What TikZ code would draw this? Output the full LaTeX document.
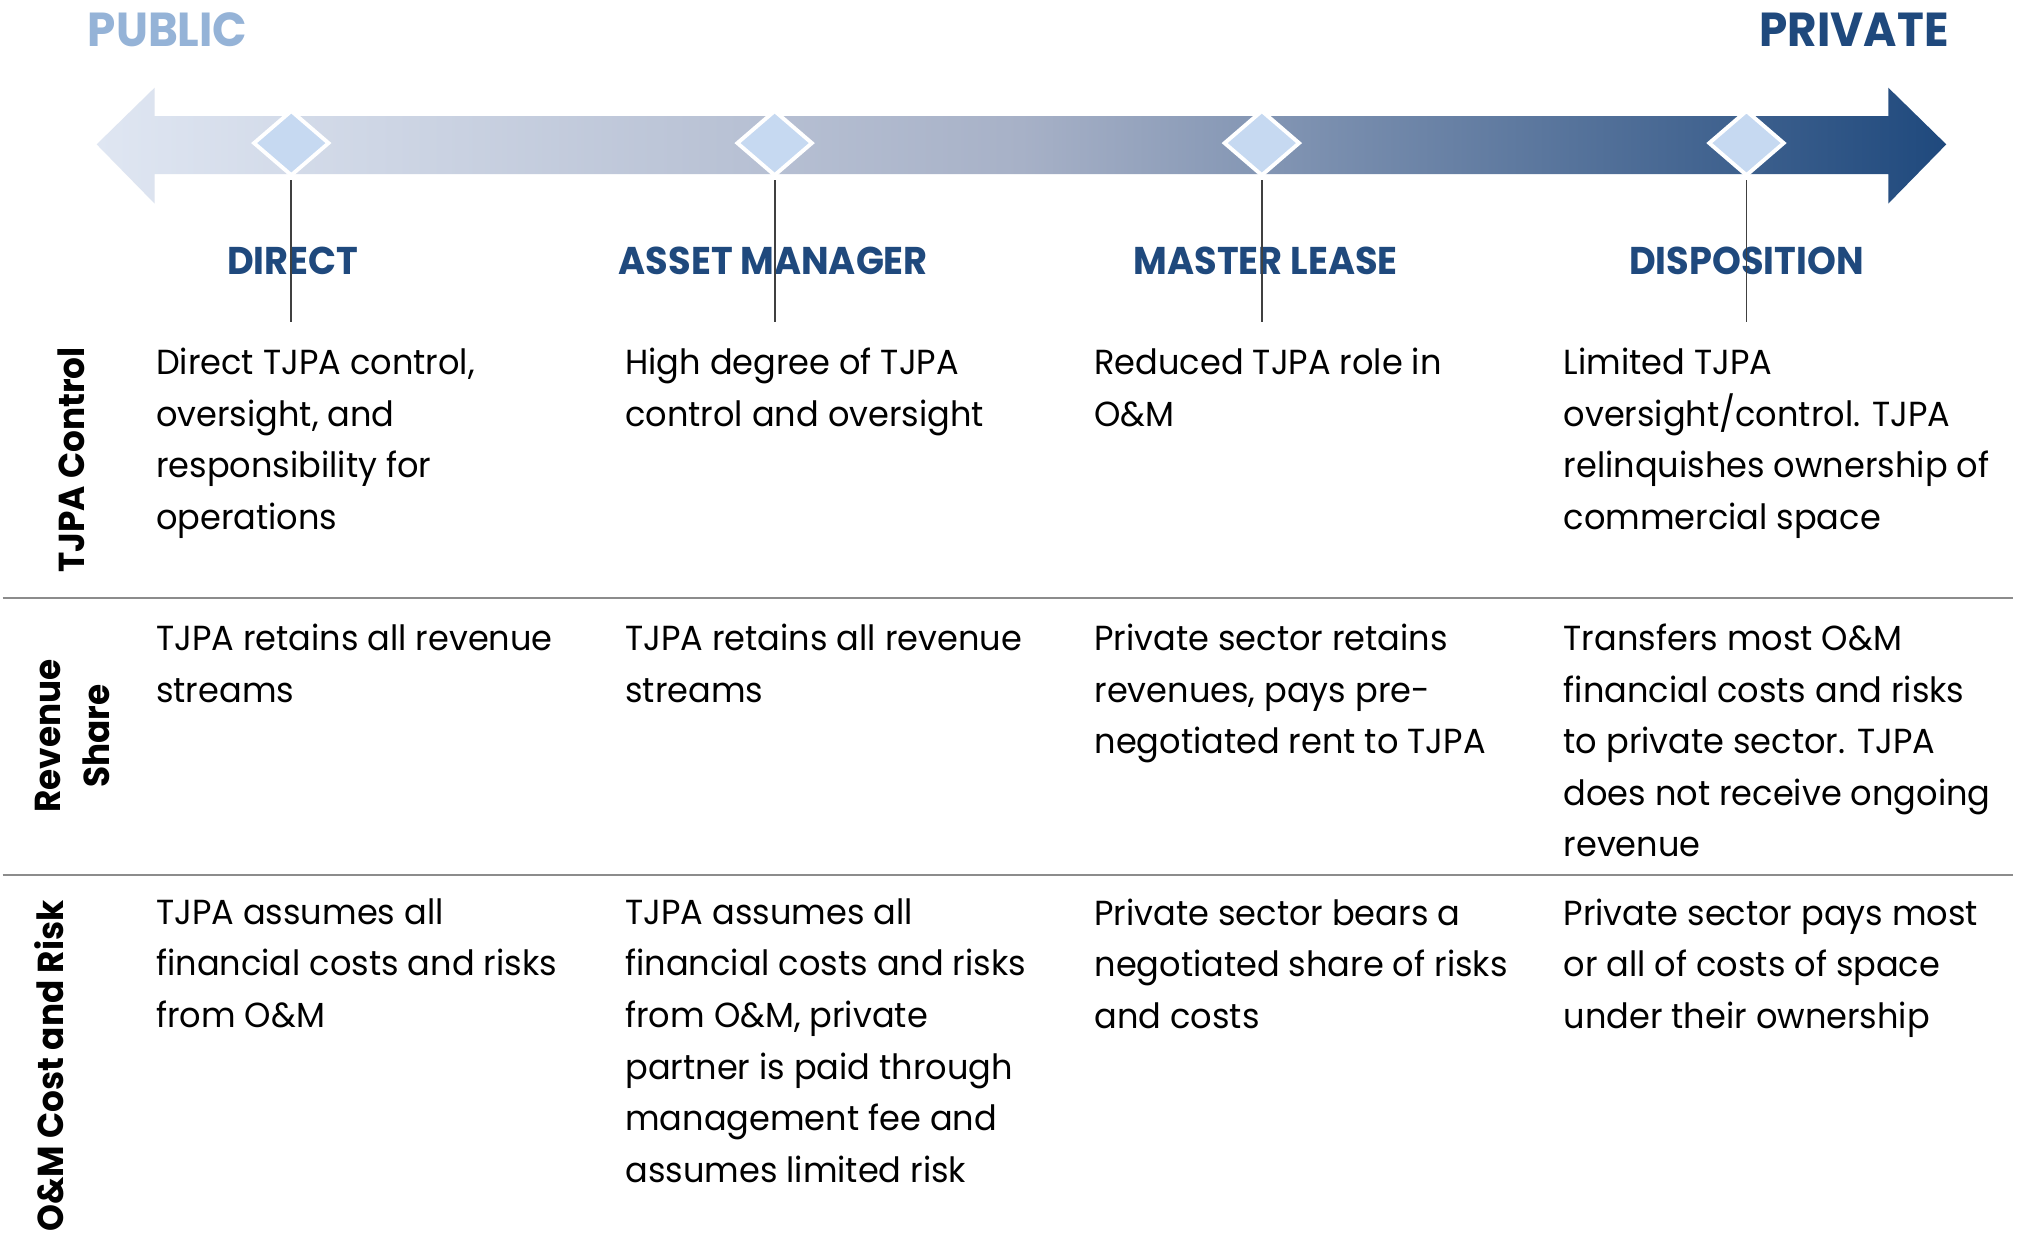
\documentclass[tikz,border=0pt]{standalone}
\usepackage{fontspec}
\setmainfont{Poppins}[UprightFeatures={FakeStretch=0.965},BoldFeatures={FakeStretch=0.95}]
\usetikzlibrary{shapes.geometric}
\definecolor{pub}{HTML}{95B3D7}
\definecolor{priv}{HTML}{1F497D}
\definecolor{arrL}{HTML}{DFE6F2}
\definecolor{arrM}{HTML}{A7B1C7}
\definecolor{arrR}{HTML}{1F497D}
\definecolor{dia}{HTML}{C6D9F1}
\definecolor{sepc}{HTML}{8C8C8C}
\definecolor{tickc}{HTML}{404040}
\begin{document}
\begin{tikzpicture}[x=1pt,y=-1pt,
  body/.style={anchor=north west, inner sep=0pt, align=left, text=black,
    font=\fontsize{27}{40}\selectfont},
  hdr/.style={anchor=base, inner sep=0pt, text=priv,
    font=\fontsize{30}{36}\selectfont\bfseries},
  rowlab/.style={rotate=90, inner sep=0pt, align=center, text=black,
    font=\fontsize{28}{38}\selectfont\bfseries},
  gem/.style={shape=diamond, draw=white, line width=3pt, fill=dia,
    minimum width=59pt, minimum height=51pt, inner sep=0pt},
  tick/.style={draw=tickc, line width=1.4pt},
  sepline/.style={draw=sepc, line width=2pt}]
\useasboundingbox (0,0) rectangle (1568,956);
\fill[white] (0,0) rectangle (1568,956);
% titles
\node[anchor=base west, inner sep=0pt, text=pub, font=\fontsize{37}{40}\selectfont\bfseries] (public) at (68,36) {PUBLIC};
\node[anchor=base east, inner sep=0pt, text=priv, font=\fontsize{37}{40}\selectfont\bfseries] (private) at (1512,36) {PRIVATE};
% arrow
\shade[left color=arrL, right color=arrR, middle color=arrM]
  (75,112) -- (120,68) -- (120,90) -- (1465,90) -- (1465,68) -- (1510,112)
  -- (1465,158) -- (1465,135) -- (120,135) -- (120,158) -- cycle;
% headers
\node[hdr] (h1) at (227,213) {DIRECT};
\node[hdr] (h2) at (600,213) {ASSET MANAGER};
\node[hdr] (h3) at (982,213) {MASTER LEASE};
\node[hdr] (h4) at (1355,213) {DISPOSITION};
% diamonds and ticks
\node[gem] (d1) at (226,111) {};
\node[gem] (d2) at (601,111) {};
\node[gem] (d3) at (979,111) {};
\node[gem] (d4) at (1355,111) {};
\coordinate (t1) at (226,250);
\coordinate (t2) at (601,250);
\coordinate (t3) at (979,250);
\coordinate (t4) at (1355,250);
\draw[tick] ([yshift=-2pt]d1.south) -- (t1);
\draw[tick] ([yshift=-2pt]d2.south) -- (t2);
\draw[tick] ([yshift=-2pt]d3.south) -- (t3);
\draw[tick] ([yshift=-2pt]d4.south) -- (t4);
% separators
\coordinate (s1a) at (2,464);
\coordinate (s1b) at (1562,464);
\coordinate (s2a) at (2,679);
\coordinate (s2b) at (1562,679);
\draw[sepline] (s1a) -- (s1b);
\draw[sepline] (s2a) -- (s2b);
% row labels
\node[rowlab] (r1) at (55,357) {TJPA Control};
\node[rowlab] (r2) at (56,571) {Revenue\\Share};
\node[rowlab] (r3) at (38,827) {O\&M Cost and Risk};
% row 1
\node[body] (c11) at (121,270) {Direct TJPA control,\\oversight, and\\responsibility for\\operations};
\node[body] (c12) at (485,270) {High degree of TJPA\\control and oversight};
\node[body] (c13) at (849,270) {Reduced TJPA role in\\O\&M};
\node[body] (c14) at (1213,270) {Limited TJPA\\oversight/control. TJPA\\relinquishes ownership of\\commercial space};
% row 2
\node[body] (c21) at (121,484) {TJPA retains all revenue\\streams};
\node[body] (c22) at (485,484) {TJPA retains all revenue\\streams};
\node[body] (c23) at (849,484) {Private sector retains\\revenues, pays pre-\\negotiated rent to TJPA};
\node[body] (c24) at (1213,484) {Transfers most O\&M\\financial costs and risks\\to private sector. TJPA\\does not receive ongoing\\revenue};
% row 3
\node[body] (c31) at (121,697) {TJPA assumes all\\financial costs and risks\\from O\&M};
\node[body] (c32) at (485,697) {TJPA assumes all\\financial costs and risks\\from O\&M, private\\partner is paid through\\management fee and\\assumes limited risk};
\node[body] (c33) at (849,697) {Private sector bears a\\negotiated share of risks\\and costs};
\node[body] (c34) at (1213,697) {Private sector pays most\\or all of costs of space\\under their ownership};
\end{tikzpicture}
\end{document}
